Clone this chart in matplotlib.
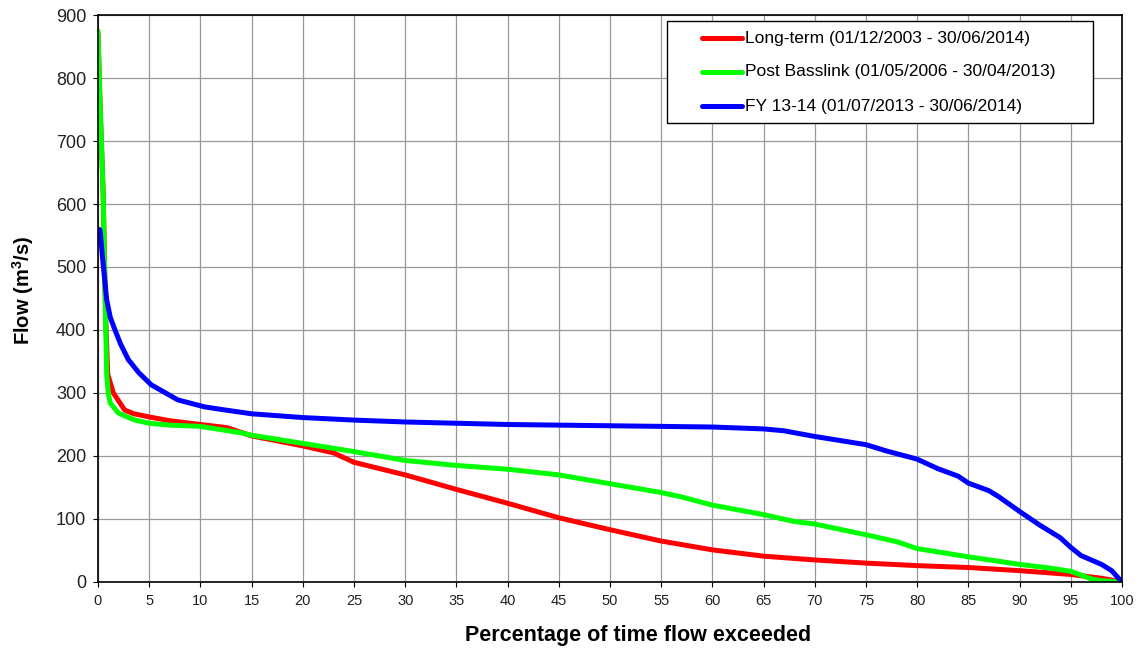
import matplotlib
matplotlib.use("Agg")
import matplotlib.pyplot as plt
from matplotlib.patches import Rectangle
from matplotlib.lines import Line2D

plt.rcParams['font.family'] = ['Liberation Sans', 'DejaVu Sans']

# Data
long_x = [0, 0.2, 0.5, 0.75, 0.95, 1.5, 2.6, 3.5, 5, 7, 10, 12.6, 15, 20, 23, 25, 30, 35, 40, 45, 50, 55, 60, 65, 70, 75, 80, 85, 90, 95, 98, 100]
long_y = [870, 760, 620, 420, 330, 300, 273, 267, 262, 256, 250, 245, 232, 216, 205, 190, 170, 147, 125, 102, 83, 65, 51, 41, 35, 30, 26, 23, 18, 12, 6, 0]

post_x = [0, 0.2, 0.5, 0.7, 0.85, 1.0, 1.2, 2.0, 3.6, 5, 7, 10, 13.9, 15, 20, 25, 30, 35, 40, 45, 50, 55, 57, 60, 65, 68, 70, 75, 78, 80, 85, 90, 93, 95, 96, 97, 98, 100]
post_y = [875, 760, 620, 450, 330, 300, 284, 268, 257, 252, 249, 247, 237, 233, 220, 207, 193, 185, 179, 170, 156, 142, 135, 122, 107, 96, 92, 75, 64, 53, 40, 28, 22, 17, 11, 5, 2, 0]

fy_x = [0, 0.2, 0.5, 0.85, 1.2, 1.66, 2.2, 2.96, 4, 5.2, 7.8, 10.4, 12, 15, 20, 25, 30, 35, 40, 45, 50, 55, 60, 65, 67, 70, 75, 77, 80, 82, 84, 85, 87, 88, 90, 92, 94, 95, 96, 97, 98, 99, 100]
fy_y = [560, 559, 505, 448, 420, 400, 378, 353, 332, 313, 289, 278, 274, 267, 261, 257, 254, 252, 250, 249, 248, 247, 246, 243, 240, 231, 218, 208, 195, 180, 168, 157, 145, 135, 112, 90, 70, 55, 42, 35, 28, 18, 0]

labels = ["Long-term (01/12/2003 - 30/06/2014)",
          "Post Basslink (01/05/2006 - 30/04/2013)",
          "FY 13-14 (01/07/2013 - 30/06/2014)"]
colors = ["#ff0000", "#00ff00", "#0000ff"]

fig = plt.figure(figsize=(11.4, 6.5), dpi=100)
ax = fig.add_axes([0.08596, 0.10462, 0.8982, 0.8723])

ax.plot(long_x, long_y, color=colors[0], lw=3.6, solid_joinstyle='round', solid_capstyle='round')
ax.plot(post_x, post_y, color=colors[1], lw=3.6, solid_joinstyle='round', solid_capstyle='round')
ax.plot(fy_x, fy_y, color=colors[2], lw=3.6, solid_joinstyle='round', solid_capstyle='round')

ax.set_xlim(0, 100)
ax.set_ylim(0, 900)
ax.set_xticks(range(0, 101, 5))
ax.set_yticks(range(0, 901, 100))
ax.grid(True, color="#999999", lw=0.9)
ax.set_axisbelow(True)
for s in ax.spines.values():
    s.set_color("black")
    s.set_linewidth(1.2)
ax.tick_params(axis='both', direction='out', length=3.5, color='black', labelcolor='#222222')
ax.tick_params(axis='x', labelsize=10.5, pad=5)
ax.tick_params(axis='y', labelsize=13, pad=5)

ax.set_xlabel("Percentage of time flow exceeded", fontsize=15.5, fontweight='bold')
ax.xaxis.set_label_coords(0.527, -0.076)
ax.set_ylabel("Flow (m$^\\mathregular{3}$/s)", fontsize=14.5, fontweight='bold')
ax.yaxis.set_label_coords(-0.061, 0.515)

# Legend box drawn in axes-fraction coordinates
lx0, lx1 = 0.5557, 0.9717
ly0, ly1 = 0.8095, 0.9894
ax.add_patch(Rectangle((lx0, ly0), lx1 - lx0, ly1 - ly0, transform=ax.transAxes,
                       facecolor='white', edgecolor='black', lw=1.0, zorder=5))
rows = [0.9594, 0.8995, 0.8395]
for lab, col, yy in zip(labels, colors, rows):
    ax.add_line(Line2D([0.5898, 0.6289], [yy, yy], transform=ax.transAxes,
                       color=col, lw=3.6, solid_capstyle='round', zorder=6))
    ax.text(0.6318, yy, lab, transform=ax.transAxes, fontsize=12.5,
            va='center', ha='left', color='black', zorder=6)

fig.savefig("out.png", dpi=100)
